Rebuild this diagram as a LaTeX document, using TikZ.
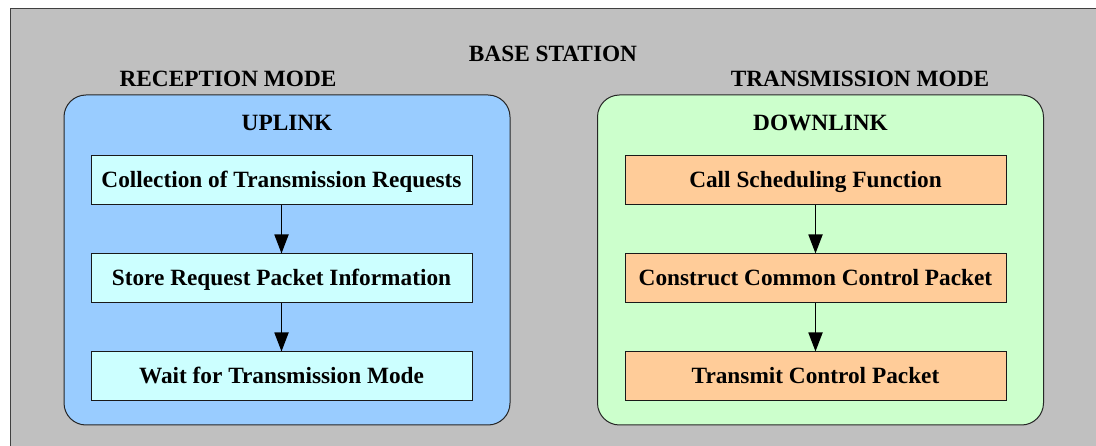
\documentclass[tikz,border=0pt]{standalone}
\usepackage{fontspec}
\setmainfont{Liberation Serif}
\usetikzlibrary{arrows.meta}

\definecolor{stationgray}{HTML}{C0C0C0}
\definecolor{uplinkblue}{HTML}{99CCFF}
\definecolor{downlinkgreen}{HTML}{CCFFCC}
\definecolor{stepcyan}{HTML}{CCFFFF}
\definecolor{steporange}{HTML}{FFCC99}

\tikzset{
  heading/.style={anchor=base, font=\fontsize{23.3}{27}\selectfont\bfseries, inner sep=0pt},
  panel/.style={draw=black!85, line width=1pt, rounded corners=22pt,
                minimum width=446pt, minimum height=330pt, inner sep=0pt},
  stepbox/.style={draw=black!90, line width=1pt, minimum width=381pt,
                  minimum height=49pt, inner sep=0pt, text depth=2pt,
                  font=\fontsize{23.3}{27}\selectfont\bfseries},
  flow/.style={line width=1.8pt, -{Triangle[length=19pt,width=14pt]}}
}

\begin{document}
\begin{tikzpicture}[x=1pt,y=-1pt]
  \useasboundingbox (0,0) rectangle (1096,446);
  \clip (0,0) rectangle (1096,446);

  % base station frame, running off the right and bottom edges
  \draw[fill=stationgray, draw=black!75, line width=1pt] (10,9) rectangle (1120,470);
  \node[heading] (station) at (553,62) {BASE STATION};

  % mode headings
  \node[heading] (rxmode) at (228,87) {RECEPTION MODE};
  \node[heading] (txmode) at (860,87) {TRANSMISSION MODE};

  % uplink / downlink panels
  \node[panel, fill=uplinkblue] (uplink) at (287,260) {};
  \node[panel, fill=downlinkgreen] (downlink) at (820.5,260) {};
  \node[heading] (uptitle) at (287,131) {UPLINK};
  \node[heading] (downtitle) at (820.5,131) {DOWNLINK};

  % uplink steps
  \node[stepbox, fill=stepcyan] (u1) at (281.5,180.5) {Collection of Transmission Requests};
  \node[stepbox, fill=stepcyan] (u2) at (281.5,278.5) {Store Request Packet Information};
  \node[stepbox, fill=stepcyan] (u3) at (281.5,376.5) {Wait for Transmission Mode};

  % downlink steps
  \node[stepbox, fill=steporange] (d1) at (815.5,180.5) {Call Scheduling Function};
  \node[stepbox, fill=steporange] (d2) at (815.5,278.5) {Construct Common Control Packet};
  \node[stepbox, fill=steporange] (d3) at (815.5,376.5) {Transmit Control Packet};

  \draw[flow] (u1) -- (u2);
  \draw[flow] (u2) -- (u3);
  \draw[flow] (d1) -- (d2);
  \draw[flow] (d2) -- (d3);
\end{tikzpicture}
\end{document}
